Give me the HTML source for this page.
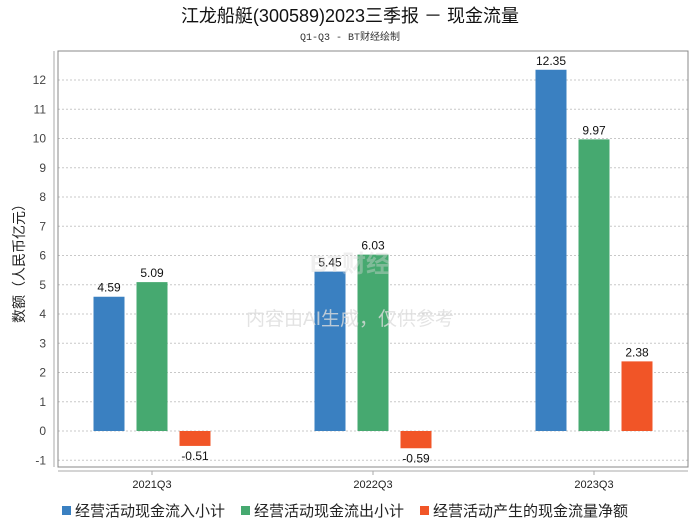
<!DOCTYPE html>
<html><head><meta charset="utf-8"><style>
body{margin:0;background:#fff;width:700px;height:524px;overflow:hidden;font-family:"Liberation Sans","Noto Sans CJK SC",sans-serif}
</style></head><body>
<svg id="chart" width="700" height="524" xmlns="http://www.w3.org/2000/svg">
<text x="350" y="22" text-anchor="middle" font-size="18" fill="#111" font-family="Liberation Sans,Noto Sans CJK SC,sans-serif">江龙船艇(300589)2023三季报 － 现金流量</text>
<text x="350" y="40" text-anchor="middle" font-size="10" fill="#333" font-family="Liberation Mono,Noto Sans CJK SC,monospace">Q1-Q3 - BT财经绘制</text>
<text transform="translate(24,260) rotate(-90)" text-anchor="middle" font-size="14" fill="#222">数额（人民币亿元）</text>
<g id="grid"></g><g id="bars"></g><g id="xaxis"></g>
<text x="350" y="272" text-anchor="middle" font-size="24" fill="#d8d8d8" fill-opacity="0.4" font-weight="bold">BT财经</text>
<text x="350" y="325" text-anchor="middle" font-size="19" fill="#dcdcdc" fill-opacity="0.8">内容由AI生成，仅供参考</text>
<rect x="58" y="51" width="630" height="416" fill="none" stroke="#888" stroke-width="1"/>
<g id="legend"></g>
</svg>
<script>
const categories=["2021Q3","2022Q3","2023Q3"];
const seriesNames=["经营活动现金流入小计","经营活动现金流出小计","经营活动产生的现金流量净额"];
const inflow=[4.59,5.45,12.35];
const outflow=[5.09,6.03,9.97];
const net=[-0.51,-0.59,2.38];
const yTicks=[-1,0,1,2,3,4,5,6,7,8,9,10,11,12];
const colors=["#3a80c1","#46a970","#f15527"];
const NS="http://www.w3.org/2000/svg";
function y(v){return 431-v*29.25;}
function gx(i){return 152+i*221;}
function mk(t,a,p){const e=document.createElementNS(NS,t);for(const k in a)e.setAttribute(k,a[k]);p.appendChild(e);return e;}
const grid=document.getElementById('grid');
yTicks.forEach(t=>{
 const l=mk('line',{x1:58,x2:688,y1:y(t),y2:y(t),stroke:'#c8c8c8','stroke-dasharray':'2,2'},grid);
 
 
 const tx=mk('text',{x:46,y:y(t)+4,'text-anchor':'end','font-size':12,fill:'#444'},grid);
 tx.textContent=t;
 
 
});
mk('line',{x1:54,x2:54,y1:51,y2:467,stroke:'#aaa'},grid);
mk('line',{x1:58,x2:688,y1:471,y2:471,stroke:'#aaa'},grid);
const bars=document.getElementById('bars');
const series=[inflow,outflow,net];
categories.forEach((c,i)=>{
 series.forEach((s,j)=>{
  const v=s[i];const x=gx(i)+(j-1)*43-15.5;
  const top=Math.min(y(v),y(0)),h=Math.abs(y(v)-y(0));
  const r=mk('rect',{x:x,y:top,width:31,height:h,fill:colors[j]},bars);
  
  
  const t=mk('text',{x:x+15.5,y:v>=0?y(v)-5:y(v)+14,'text-anchor':'middle','font-size':12,fill:'#111'},bars);
  t.textContent=v.toFixed(2);
  
  
 });
 const xa=document.getElementById('xaxis');
 mk('line',{x1:gx(i),x2:gx(i),y1:471,y2:475,stroke:'#aaa'},xa);
 const t=mk('text',{x:gx(i),y:488,'text-anchor':'middle','font-size':11,fill:'#222'},xa);
 t.textContent=c;
 
 
});
const lg=document.getElementById('legend');
const lx=[62,241,420];
seriesNames.forEach((n,j)=>{
 const g=mk('g',{},lg);
 
 
 mk('rect',{x:lx[j],y:506,width:9,height:9,fill:colors[j]},g);
 const t=mk('text',{x:lx[j]+13,y:516,'font-size':15,fill:'#222'},g);
 t.textContent=n;
});
</script>
</body></html>
